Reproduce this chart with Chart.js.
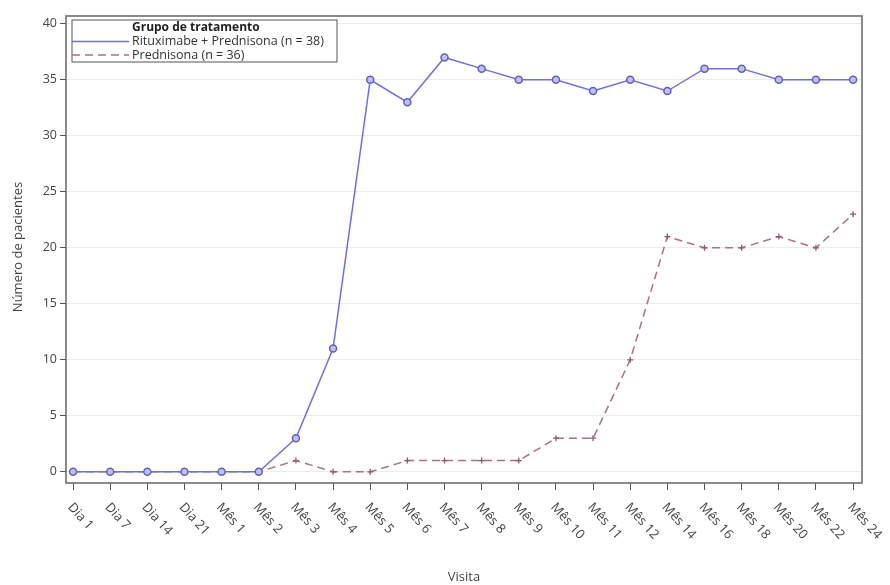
<!DOCTYPE html>
<html>
<head>
<meta charset="utf-8">
<script src="https://cdn.jsdelivr.net/npm/chart.js@4.4.1/dist/chart.umd.min.js"></script>
<style>
body { margin: 0; background: #fff; }
</style>
</head>
<body>
<canvas id="myChart" width="890" height="585"></canvas>
<script>
var visitas = ['Dia 1', 'Dia 7', 'Dia 14', 'Dia 21', 'Mês 1', 'Mês 2', 'Mês 3', 'Mês 4', 'Mês 5', 'Mês 6', 'Mês 7',
    'Mês 8', 'Mês 9', 'Mês 10', 'Mês 11', 'Mês 12', 'Mês 14', 'Mês 16', 'Mês 18', 'Mês 20', 'Mês 22', 'Mês 24'];
var rituximabe = [0, 0, 0, 0, 0, 0, 3, 11, 35, 33, 37, 36, 35, 35, 34, 35, 34, 36, 36, 35, 35, 35];
var prednisona = [0, 0, 0, 0, 0, 0, 1, 0, 0, 1, 1, 1, 1, 3, 3, 10, 21, 20, 20, 21, 20, 23];
var yTicks = [0, 5, 10, 15, 20, 25, 30, 35, 40];
var nomes = ['Rituximabe + Prednisona (n = 38)', 'Prednisona (n = 36)'];
var tituloLegenda = 'Grupo de tratamento';

var fonte = "'Open Sans', sans-serif";

function pontos(valores) {
    return valores.map(function (v, i) { return { x: i, y: v }; });
}

// moldura, legenda e rotulos do eixo x
var extras = {
    id: 'extras',
    afterDatasetsDraw: function (chart) {
        var ctx = chart.ctx;
        var a = chart.chartArea;
        ctx.save();
        ctx.strokeStyle = '#666';
        ctx.lineWidth = 1.5;
        ctx.strokeRect(a.left, a.top, a.right - a.left, a.bottom - a.top);

        // legenda
        var lx = 72, ly = 20, lw = 265, lh = 42;
        ctx.fillStyle = '#fff';
        ctx.fillRect(lx, ly, lw, lh);
        ctx.strokeStyle = '#555';
        ctx.lineWidth = 1;
        ctx.strokeRect(lx, ly, lw, lh);
        ctx.fillStyle = '#222';
        ctx.textBaseline = 'middle';
        ctx.textAlign = 'left';
        ctx.font = 'bold 12px ' + fonte;
        ctx.fillText(tituloLegenda, 132, 28);
        ctx.font = '12.5px ' + fonte;
        chart.data.datasets.forEach(function (ds, i) {
            var y = 41.5 + i * 13.5;
            ctx.strokeStyle = ds.borderColor;
            ctx.lineWidth = 1.5;
            ctx.setLineDash(ds.borderDash || []);
            ctx.beginPath();
            ctx.moveTo(lx, y);
            ctx.lineTo(129, y);
            ctx.stroke();
            ctx.setLineDash([]);
            ctx.fillStyle = '#333';
            ctx.fillText(ds.label, 132, y);
        });
        ctx.restore();
    },
    afterDraw: function (chart) {
        var ctx = chart.ctx;
        var a = chart.chartArea;
        var sx = chart.scales.x;
        ctx.save();
        ctx.fillStyle = '#444';
        ctx.font = '13px ' + fonte;
        ctx.textAlign = 'left';
        ctx.textBaseline = 'middle';
        visitas.forEach(function (lab, i) {
            var x = sx.getPixelForValue(i);
            ctx.save();
            ctx.translate(x - 3, a.bottom + 22);
            ctx.rotate(48 * Math.PI / 180);
            ctx.fillText(lab, 0, 0);
            ctx.restore();
        });
        ctx.textAlign = 'center';
        ctx.font = '13px ' + fonte;
        ctx.fillText('Visita', (a.left + a.right) / 2, 577);
        ctx.translate(18, 247);
        ctx.rotate(-Math.PI / 2);
        ctx.fillText('Número de pacientes', 0, 0);
        ctx.restore();
    }
};

window.addEventListener('load', function () {
    var ctx = document.getElementById('myChart').getContext('2d');
    new Chart(ctx, {
        type: 'line',
        data: {
            datasets: [{
                label: nomes[0],
                data: pontos(rituximabe),
                borderColor: '#7070dc',
                borderWidth: 1.5,
                backgroundColor: '#a9a9ea',
                pointBorderColor: '#6060c0',
                pointBackgroundColor: '#c0c0f2',
                pointRadius: 3.5,
                pointBorderWidth: 1.5,
                pointStyle: 'circle',
                tension: 0
            }, {
                label: nomes[1],
                data: pontos(prednisona),
                borderColor: '#ad7080',
                borderWidth: 1.5,
                borderDash: [8, 5],
                backgroundColor: '#a8697a',
                pointBorderColor: '#95586a',
                pointRadius: 3,
                pointBorderWidth: 1.3,
                pointStyle: 'cross',
                tension: 0
            }]
        },
        options: {
            responsive: false,
            animation: false,
            layout: { padding: { top: 16, right: 28, left: 0, bottom: 0 } },
            plugins: {
                legend: { display: false },
                tooltip: { enabled: false }
            },
            scales: {
                x: {
                    type: 'linear',
                    min: -0.19,
                    max: 21.24,
                    afterBuildTicks: function (scale) {
                        scale.ticks = visitas.map(function (_, i) { return { value: i }; });
                    },
                    afterFit: function (scale) { scale.height = 102; },
                    ticks: { display: false },
                    border: { display: false },
                    grid: { drawOnChartArea: false, drawTicks: true, tickLength: 7, tickColor: '#555', tickWidth: 1 }
                },
                y: {
                    min: -1,
                    max: 40.7,
                    afterBuildTicks: function (scale) {
                        scale.ticks = yTicks.map(function (v) { return { value: v }; });
                    },
                    afterFit: function (scale) { scale.width = 66; },
                    ticks: { color: '#444', padding: 3, font: { family: fonte, size: 12.5 } },
                    border: { display: false },
                    grid: { color: '#ececec', lineWidth: 1, tickLength: 6, tickColor: '#555' }
                }
            }
        },
        plugins: [extras]
    });
});
</script>
</body>
</html>
